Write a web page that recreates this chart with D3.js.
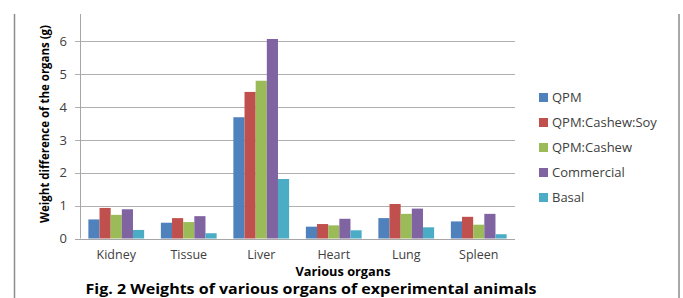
<!DOCTYPE html>
<html>
<head>
<meta charset="utf-8">
<script src="https://cdn.jsdelivr.net/npm/d3@7"></script>
<style>
  body { margin: 0; background: #fff; }
  svg { display: block; font-family: "Open Sans", "Liberation Sans", sans-serif; }
</style>
</head>
<body>
<svg width="683" height="298"></svg>
<script>
// organs along the x axis
var organs = ["Kidney", "Tissue", "Liver", "Heart", "Lung", "Spleen"];
var feeds = ["QPM", "QPM:Cashew:Soy", "QPM:Cashew", "Commercial", "Basal"];
var colors = ["#4f81bd", "#c0504d", "#9bbb59", "#8064a2", "#4bacc6"];

// weight difference (g), one array per feed
var qpm        = [0.58, 0.48, 3.69, 0.36, 0.62, 0.52];
var cashewSoy  = [0.93, 0.62, 4.46, 0.44, 1.05, 0.66];
var cashew     = [0.72, 0.50, 4.80, 0.40, 0.75, 0.42];
var commercial = [0.89, 0.68, 6.07, 0.60, 0.91, 0.75];
var basal      = [0.26, 0.16, 1.81, 0.25, 0.34, 0.13];
var series = [qpm, cashewSoy, cashew, commercial, basal];

var yTicks = [0, 1, 2, 3, 4, 5, 6];

var svg = d3.select("svg");
var left = 80, right = 515, bottom = 238.5, top6 = 41.3;

var x = d3.scaleBand().domain(organs).range([left, right]).paddingInner(1.5 / 6.5).paddingOuter(0.75 / 6.5);
var xs = d3.scaleBand().domain(d3.range(feeds.length)).range([0, x.bandwidth()]);
var y = d3.scaleLinear().domain([0, 6]).range([bottom, top6]);

// frame lines left and right
svg.append("line").attr("x1", 14.5).attr("x2", 14.5).attr("y1", 14).attr("y2", 298)
  .attr("stroke", "#8c8c8c").attr("stroke-width", 1.5);
svg.append("line").attr("x1", 679).attr("x2", 679).attr("y1", 14).attr("y2", 298)
  .attr("stroke", "#8c8c8c").attr("stroke-width", 1.5);

// gridlines
svg.append("g").selectAll("line").data(yTicks).enter().append("line")
  .attr("x1", 75).attr("x2", right)
  .attr("y1", function(d) { return Math.round(y(d)) + 0.5; })
  .attr("y2", function(d) { return Math.round(y(d)) + 0.5; })
  .attr("stroke", function(d) { return d == 0 ? "#a6a6a6" : "#b0b0b0"; })
  .attr("stroke-width", 1);

// y axis line
svg.append("line").attr("x1", left + 0.5).attr("x2", left + 0.5).attr("y1", 14).attr("y2", bottom)
  .attr("stroke", "#a6a6a6");

// bars
var groups = svg.append("g").selectAll("g").data(series).enter().append("g")
  .attr("fill", function(d, i) { return colors[i]; });
groups.selectAll("rect")
  .data(function(d, i) { return d.map(function(v, j) { return {v: v, s: i, o: organs[j]}; }); })
  .enter().append("rect")
  .attr("x", function(d) { return x(d.o) + xs(d.s); })
  .attr("width", xs.bandwidth())
  .attr("y", function(d) { return y(d.v); })
  .attr("height", function(d) { return bottom - y(d.v); });

// y tick labels
svg.append("g").selectAll("text").data(yTicks).enter().append("text")
  .attr("x", 67).attr("y", function(d) { return y(d); })
  .attr("dy", "0.36em").attr("text-anchor", "end")
  .attr("font-size", 13).attr("fill", "#404040")
  .text(function(d) { return d; });

// x category labels
svg.append("g").selectAll("text").data(organs).enter().append("text")
  .attr("x", function(d) { return x(d) + x.bandwidth() / 2; })
  .attr("y", 259)
  .attr("text-anchor", "middle").attr("font-size", 12.5).attr("fill", "#404040")
  .text(function(d) { return d; });

// axis titles
svg.append("text").attr("transform", "translate(49,124) rotate(-90)")
  .attr("text-anchor", "middle").attr("font-size", 12).attr("font-weight", "bold")
  .attr("textLength", 198).attr("lengthAdjust", "spacingAndGlyphs")
  .text("Weight difference of the organs (g)");

svg.append("text").attr("x", 343).attr("y", 276)
  .attr("text-anchor", "middle").attr("font-size", 11.5).attr("font-weight", "bold")
  .attr("textLength", 95).attr("lengthAdjust", "spacingAndGlyphs")
  .text("Various organs");

svg.append("text").attr("x", 311).attr("y", 294)
  .attr("text-anchor", "middle").attr("font-size", 13.5).attr("font-weight", "bold")
  .attr("textLength", 451).attr("lengthAdjust", "spacingAndGlyphs")
  .text("Fig. 2 Weights of various organs of experimental animals");

// legend
var legend = svg.append("g").selectAll("g").data(feeds).enter().append("g")
  .attr("transform", function(d, i) { return "translate(539," + (97.5 + i * 25) + ")"; });
legend.append("rect").attr("x", 0).attr("y", -4.5).attr("width", 9).attr("height", 9)
  .attr("fill", function(d, i) { return colors[i]; });
legend.append("text").attr("x", 13).attr("dy", "0.36em")
  .attr("font-size", 13).attr("fill", "#404040")
  .text(function(d) { return d; });
</script>
</body>
</html>
